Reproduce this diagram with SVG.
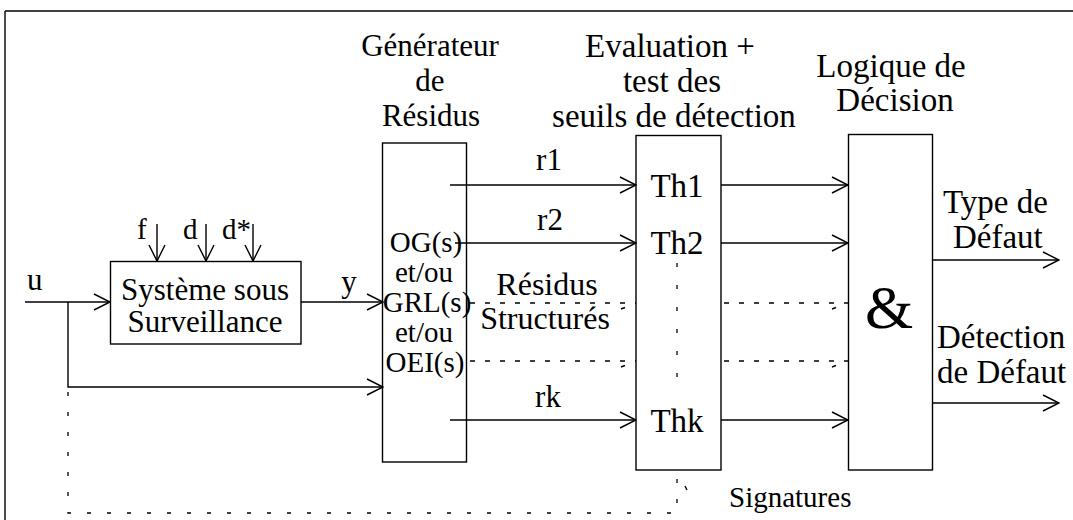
<svg xmlns="http://www.w3.org/2000/svg" width="1073" height="520" viewBox="0 0 1073 520">
<style>
text{font-family:"Liberation Serif","Times New Roman",serif;font-size:31px;fill:#000}
.c{text-anchor:middle}
.t33{font-size:33px}
.og{font-size:29px}
.box{fill:#fff;stroke:#000;stroke-width:1.4}
.ln{fill:none;stroke:#000;stroke-width:1.4}
.dash{fill:none;stroke:#000;stroke-width:1.3;stroke-dasharray:5 10}
.dash2{fill:none;stroke:#000;stroke-width:1.3;stroke-dasharray:4 16}
.dot{fill:none;stroke:#000;stroke-width:1.3;stroke-dasharray:4 18}
</style>
<defs>
<marker id="ar" markerUnits="userSpaceOnUse" viewBox="0 0 18 18" markerWidth="18" markerHeight="18" refX="17" refY="9" orient="auto">
<path d="M1,1 L17,9 L1,17" fill="none" stroke="#000" stroke-width="1.4"/>
</marker>
</defs>
<g id="frame">
<line class="ln" x1="5" y1="11" x2="1073" y2="11"/>
<line class="ln" x1="5" y1="11" x2="5" y2="520"/>
</g>
<g id="titles">
<text class="c" x="430" y="56">Générateur</text>
<text class="c" x="430" y="91">de</text>
<text class="c" x="431" y="126">Résidus</text>
<text class="c t33" x="670" y="57">Evaluation +</text>
<text class="c t33" x="672" y="92">test des</text>
<text class="c t33" x="674" y="127">seuils de détection</text>
<text class="c t33" x="891" y="77">Logique de</text>
<text class="c t33" x="895" y="111">Décision</text>
</g>
<g id="systeme">
<rect class="box" x="110.5" y="261.5" width="190.5" height="82.5"/>
<text class="c" x="205" y="300">Système sous</text>
<text class="c" x="205" y="332">Surveillance</text>
</g>
<g id="generateur">
<rect class="box" x="382.5" y="143" width="84" height="319"/>
<text class="c og" x="426" y="252">OG(s)</text>
<text class="c og" x="424" y="282">et/ou</text>
<text class="c og" x="427" y="312">GRL(s)</text>
<text class="c og" x="424" y="342">et/ou</text>
<text class="c og" x="425" y="372">OEI(s)</text>
</g>
<g id="evaluation">
<rect class="box" x="636" y="135.5" width="85" height="334.5"/>
<text class="c t33" x="677" y="197">Th1</text>
<text class="c t33" x="677" y="254">Th2</text>
<text class="c t33" x="677" y="432">Thk</text>
<line class="dot" x1="677" y1="263" x2="677" y2="395"/>
</g>
<g id="decision">
<rect class="box" x="848.5" y="134.5" width="84" height="335.5"/>
<text class="c" x="889" y="328" style="font-size:62px">&amp;</text>
</g>
<g id="connectors">
<line class="ln" x1="25" y1="302" x2="110" y2="302" marker-end="url(#ar)"/>
<polyline class="ln" points="68,302 68,387 383,387" marker-end="url(#ar)"/>
<line class="ln" x1="301" y1="302" x2="383" y2="302" marker-end="url(#ar)"/>
<line class="ln" x1="157" y1="224" x2="157" y2="261" marker-end="url(#ar)"/>
<line class="ln" x1="206" y1="224" x2="206" y2="261" marker-end="url(#ar)"/>
<line class="ln" x1="253" y1="224" x2="253" y2="261" marker-end="url(#ar)"/>
<line class="ln" x1="450" y1="185" x2="636" y2="185" marker-end="url(#ar)"/>
<line class="ln" x1="455" y1="243" x2="636" y2="243" marker-end="url(#ar)"/>
<line class="ln" x1="450" y1="420" x2="636" y2="420" marker-end="url(#ar)"/>
<line class="dash" x1="470" y1="303" x2="636" y2="303"/>
<line class="dash" x1="470" y1="361" x2="636" y2="361"/>
<line class="ln" x1="621" y1="309" x2="625" y2="307.5"/>
<line class="ln" x1="621" y1="367" x2="625" y2="365.5"/>
<line class="ln" x1="721" y1="185" x2="848" y2="185" marker-end="url(#ar)"/>
<line class="ln" x1="721" y1="243" x2="848" y2="243" marker-end="url(#ar)"/>
<line class="ln" x1="721" y1="420" x2="848" y2="420" marker-end="url(#ar)"/>
<line class="dash" x1="724" y1="303" x2="848" y2="303"/>
<line class="dash" x1="724" y1="361" x2="848" y2="361"/>
<line class="ln" x1="832" y1="309" x2="836" y2="307.5"/>
<line class="ln" x1="832" y1="367" x2="836" y2="365.5"/>
<line class="ln" x1="932" y1="260" x2="1059" y2="260" marker-end="url(#ar)"/>
<line class="ln" x1="932" y1="403" x2="1059" y2="403" marker-end="url(#ar)"/>
<polyline class="dash2" points="68,392 68,513 677,513 677,471"/>
<line class="ln" x1="685" y1="486" x2="687" y2="490"/>
</g>
<g id="labels">
<text x="27" y="290">u</text>
<text class="c" x="349" y="292">y</text>
<text x="137" y="239" style="font-size:29px">f</text>
<text x="183" y="239" style="font-size:29px">d</text>
<text x="222" y="239" style="font-size:29px">d*</text>
<text class="c" x="549" y="170">r1</text>
<text class="c" x="550" y="230">r2</text>
<text class="c" x="548" y="407">rk</text>
<text class="c" x="547" y="295" style="font-size:32px">Résidus</text>
<text class="c" x="545" y="329" style="font-size:32px">Structurés</text>
<text class="t33" x="943" y="213">Type de</text>
<text class="t33" x="953" y="248">Défaut</text>
<text class="t33" x="937" y="348">Détection</text>
<text class="t33" x="937" y="383">de Défaut</text>
<text x="729" y="507" style="font-size:29px">Signatures</text>
</g>
</svg>
